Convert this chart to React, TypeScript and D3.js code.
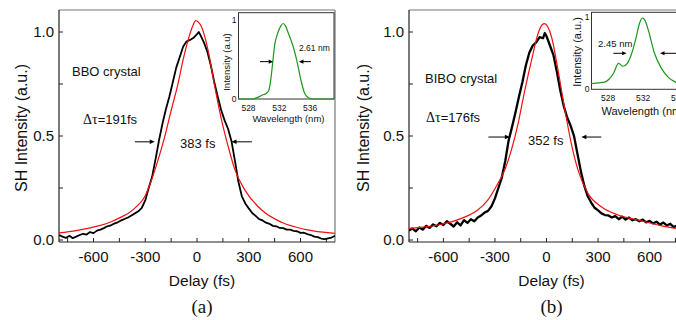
import * as d3 from 'd3'

const DELAY_MAJOR = [-600, -300, 0, 300, 600]
const DELAY_MINOR = [-750, -450, -150, 150, 450, 750]
const SH_MAJOR = [0, 0.5, 1.0]
const SH_MINOR = [0.25, 0.75]
const WL_TICKS = [528, 532, 536]
const INSET_Y_TICKS = [0, 1]

// autocorrelation traces, [delay fs, SH intensity]
const bboTrace: [number, number][] = [
  [-800, 0.024], [-780, 0.016], [-760, 0.01], [-740, 0.02], [-720, 0.009], [-700, 0.016], [-680, 0.024],
  [-660, 0.03], [-640, 0.026], [-620, 0.038], [-600, 0.033], [-580, 0.045], [-560, 0.05], [-540, 0.057],
  [-520, 0.066], [-500, 0.07], [-480, 0.079], [-460, 0.085], [-440, 0.094], [-420, 0.101], [-400, 0.108],
  [-380, 0.118], [-360, 0.128], [-340, 0.138], [-320, 0.155], [-300, 0.19], [-280, 0.25], [-260, 0.305],
  [-240, 0.39], [-220, 0.48], [-200, 0.56], [-180, 0.63], [-160, 0.69], [-140, 0.76], [-120, 0.83],
  [-100, 0.88], [-80, 0.93], [-60, 0.955], [-40, 0.962], [-20, 0.972], [0, 0.99], [10, 1.0], [20, 0.985],
  [40, 0.95], [60, 0.905], [80, 0.84], [100, 0.76], [120, 0.69], [140, 0.625], [160, 0.575], [180, 0.535],
  [200, 0.475], [220, 0.38], [240, 0.28], [260, 0.21], [280, 0.176], [300, 0.152], [320, 0.13], [340, 0.116],
  [360, 0.1], [380, 0.094], [400, 0.083], [420, 0.078], [440, 0.068], [460, 0.066], [480, 0.058], [500, 0.057],
  [520, 0.05], [540, 0.05], [560, 0.044], [580, 0.042], [600, 0.034], [620, 0.035], [640, 0.028], [660, 0.024],
  [680, 0.016], [700, 0.014], [720, 0.007], [740, 0.004], [760, 0.008], [780, 0.012], [800, 0.02],
]

const bboFit: [number, number][] = [
  [-800, 0.034], [-700, 0.045], [-633, 0.056], [-560, 0.07], [-497, 0.088], [-440, 0.11], [-400, 0.128],
  [-342, 0.168], [-303, 0.208], [-264, 0.288], [-226, 0.384], [-187, 0.497], [-149, 0.625], [-110, 0.752],
  [-81, 0.865], [-52, 0.96], [-23, 1.032], [-8, 1.055], [26, 1.025], [64, 0.913], [103, 0.737], [142, 0.577],
  [181, 0.449], [220, 0.337], [278, 0.24], [375, 0.144], [490, 0.085], [625, 0.051], [800, 0.032],
]

const biboTrace: [number, number][] = [
  [-800, 0.045], [-780, 0.055], [-760, 0.042], [-740, 0.06], [-720, 0.05], [-700, 0.068], [-680, 0.058],
  [-660, 0.075], [-640, 0.066], [-620, 0.082], [-600, 0.072], [-580, 0.09], [-560, 0.078], [-540, 0.065],
  [-520, 0.085], [-500, 0.07], [-480, 0.095], [-460, 0.082], [-440, 0.1], [-420, 0.09], [-400, 0.108],
  [-380, 0.118], [-360, 0.132], [-340, 0.14], [-320, 0.162], [-300, 0.2], [-280, 0.25], [-260, 0.3],
  [-240, 0.38], [-220, 0.48], [-200, 0.545], [-180, 0.615], [-160, 0.69], [-140, 0.76], [-120, 0.84],
  [-100, 0.9], [-80, 0.935], [-60, 0.95], [-40, 0.975], [-20, 0.97], [-10, 0.995], [0, 0.98], [20, 0.935],
  [40, 0.89], [60, 0.81], [80, 0.72], [100, 0.645], [120, 0.59], [140, 0.55], [160, 0.5], [180, 0.415],
  [200, 0.33], [220, 0.26], [240, 0.21], [260, 0.18], [280, 0.155], [300, 0.142], [320, 0.128], [340, 0.12],
  [360, 0.118], [380, 0.108], [400, 0.115], [420, 0.1], [440, 0.112], [460, 0.098], [480, 0.108], [500, 0.095],
  [520, 0.1], [540, 0.09], [560, 0.098], [580, 0.085], [600, 0.092], [620, 0.08], [640, 0.088], [660, 0.074],
  [680, 0.084], [700, 0.07], [720, 0.078], [740, 0.062], [760, 0.07], [780, 0.058], [800, 0.064],
]

const biboFit: [number, number][] = [
  [-800, 0.056], [-631, 0.072], [-495, 0.104], [-400, 0.144], [-342, 0.192], [-283, 0.272], [-243, 0.337],
  [-204, 0.433], [-165, 0.561], [-126, 0.721], [-87, 0.865], [-49, 0.993], [-25, 1.035], [-12, 1.04],
  [29, 0.977], [67, 0.817], [107, 0.625], [144, 0.465], [183, 0.337], [241, 0.224], [319, 0.16], [416, 0.12],
  [533, 0.096], [650, 0.072], [753, 0.056], [800, 0.052],
]

// SH spectra for the insets, [wavelength nm, intensity]
const bboSpectrum: [number, number][] = [
  [526.7, 0], [528.5, 0.0], [529.2, 0.02], [529.8, 0.05], [530.3, 0.07], [530.6, 0.1], [530.9, 0.25],
  [531.1, 0.42], [531.4, 0.68], [531.8, 0.83], [532.2, 0.92], [532.5, 0.95], [532.8, 0.92], [533.2, 0.82],
  [533.8, 0.66], [534.3, 0.47], [534.8, 0.24], [535.3, 0.07], [535.9, 0.01], [536.5, 0], [539.1, 0],
]

const biboSpectrum: [number, number][] = [
  [526.1, 0.08], [527.0, 0.09], [527.6, 0.1], [528.1, 0.14], [528.6, 0.22], [529.2, 0.36], [529.7, 0.32],
  [530.2, 0.36], [530.7, 0.5], [531.2, 0.72], [531.6, 0.92], [531.9, 0.99], [532.2, 0.96], [532.6, 0.82],
  [533.3, 0.5], [534.1, 0.29], [534.8, 0.175], [535.7, 0.1], [537, 0.05], [539, 0.03],
]

const SANS = 'Liberation Sans, Arial, sans-serif'
const SERIF = 'Liberation Serif, Times New Roman, serif'

type Arrow = { from: [number, number]; to: [number, number] }

type PanelCfg = {
  left: number
  right: number
  trace: [number, number][]
  fit: [number, number][]
  traceWidth: number
  crystal: string
  crystalPos: [number, number]
  dtau: string
  dtauPos: [number, number]
  fwhm: string
  fwhmPos: [number, number]
  arrows: Arrow[]
  yLabelX: number
  tag: string
  inset: {
    x0: number; x1: number; y0: number; y1: number; top: number
    domain: [number, number]
    data: [number, number][]
    yLabel: string
    yLabelX: number; yLabelY: number
    labelSize: number; tickSize: number
    tickY: number
    xLabelX: number; xLabelY: number; xLabelAnchor: string
    note: string; notePos: [number, number]; noteSize: number
    arrows: Arrow[]
  }
}

const TOP = 10
const BOTTOM = 242
const yScale = d3.scaleLinear().domain([0, 1]).range([240, 32])

const panels: PanelCfg[] = [
  {
    left: 59, right: 335, trace: bboTrace, fit: bboFit, traceWidth: 1.8,
    crystal: 'BBO crystal', crystalPos: [72, 76],
    dtau: '=191fs', dtauPos: [83, 124],
    fwhm: '383 fs', fwhmPos: [180, 148],
    arrows: [{ from: [-360, 0.472], to: [-245, 0.472] }, { from: [318, 0.472], to: [200, 0.472] }],
    yLabelX: 21, tag: '(a)',
    inset: {
      x0: 238.5, x1: 334, y0: 99, y1: 19.5, top: 12.7, domain: [526.7, 539.1], data: bboSpectrum,
      yLabel: 'Intensity (a.u)', yLabelX: 230, yLabelY: 62, labelSize: 9.5, tickSize: 8.5, tickY: 111,
      xLabelX: 288.5, xLabelY: 122, xLabelAnchor: 'middle',
      note: '2.61 nm', notePos: [299, 51], noteSize: 8.5,
      arrows: [{ from: [529.5, 0.47], to: [531.2, 0.47] }, { from: [536.1, 0.47], to: [534.55, 0.47] }],
    },
  },
  {
    left: 409, right: 684, trace: biboTrace, fit: biboFit, traceWidth: 2.3,
    crystal: 'BIBO crystal', crystalPos: [425, 83],
    dtau: '=176fs', dtauPos: [426, 122],
    fwhm: '352 fs', fwhmPos: [528, 145],
    arrows: [{ from: [-338, 0.495], to: [-213, 0.495] }, { from: [319, 0.495], to: [203, 0.495] }],
    yLabelX: 363, tag: '(b)',
    inset: {
      x0: 591.5, x1: 704, y0: 89.3, y1: 17.3, top: 12.3, domain: [526.1, 538.96], data: biboSpectrum,
      yLabel: 'Intensity (a.u.)', yLabelX: 580.5, yLabelY: 52, labelSize: 11, tickSize: 8.5, tickY: 100.5,
      xLabelX: 601.5, xLabelY: 114.5, xLabelAnchor: 'start',
      note: '2.45 nm', notePos: [598, 46.5], noteSize: 9.5,
      arrows: [{ from: [528.6, 0.5], to: [530.12, 0.5] }, { from: [536.6, 0.5], to: [533.93, 0.5] }],
    },
  },
]

function ArrowMark({ x1, y1, x2, y2, head = 5 }: { x1: number; y1: number; x2: number; y2: number; head?: number }) {
  const dir = Math.sign(x2 - x1)
  return (
    <g>
      <line x1={x1} y1={y1} x2={x2 - dir * head * 0.8} y2={y2} stroke="#000" strokeWidth={1} />
      <path d={`M${x2},${y2} L${x2 - dir * head},${y2 - head * 0.45} L${x2 - dir * head},${y2 + head * 0.45} Z`} fill="#000" />
    </g>
  )
}

function Panel({ cfg }: { cfg: PanelCfg }) {
  const x = d3.scaleLinear().domain([-800, 800]).range([cfg.left, cfg.right])
  const line = d3.line<[number, number]>().x(d => x(d[0])).y(d => yScale(d[1]))
  const smooth = d3.line<[number, number]>().x(d => x(d[0])).y(d => yScale(d[1])).curve(d3.curveMonotoneX)
  const ins = cfg.inset
  const ix = d3.scaleLinear().domain(ins.domain).range([ins.x0, ins.x1])
  const iy = d3.scaleLinear().domain([0, 1]).range([ins.y0, ins.y1])
  const spec = d3.line<[number, number]>().x(d => ix(d[0])).y(d => iy(d[1])).curve(d3.curveMonotoneX)
  const clipId = `clip-${cfg.tag.replace(/\W/g, '')}`
  const midX = x(0)

  return (
    <g>
      <defs>
        <clipPath id={clipId}>
          <rect x={cfg.left} y={TOP} width={cfg.right - cfg.left} height={BOTTOM - TOP} />
        </clipPath>
      </defs>
      {/* frame */}
      <line x1={cfg.left} x2={cfg.right} y1={TOP} y2={TOP} stroke="#777" strokeWidth={1.2} />
      <line x1={cfg.right} x2={cfg.right} y1={TOP} y2={BOTTOM} stroke="#777" strokeWidth={1.2} />
      <line x1={cfg.left} x2={cfg.left} y1={TOP} y2={BOTTOM} stroke="#222" strokeWidth={1.2} />
      <line x1={cfg.left} x2={cfg.right} y1={BOTTOM} y2={BOTTOM} stroke="#222" strokeWidth={1.2} />

      {/* ticks */}
      {[...DELAY_MAJOR, ...DELAY_MINOR].map(t => (
        <line key={`xt${t}`} x1={x(t)} x2={x(t)} y1={BOTTOM} y2={BOTTOM - 4} stroke="#222" strokeWidth={1} />
      ))}
      {[...SH_MAJOR, ...SH_MINOR].map(v => (
        <line key={`yt${v}`} x1={cfg.left} x2={cfg.left + 4} y1={yScale(v)} y2={yScale(v)} stroke="#222" strokeWidth={1} />
      ))}
      {DELAY_MAJOR.map(t => (
        <text key={`xl${t}`} x={x(t)} y={261.5} textAnchor="middle" fontFamily={SANS} fontSize={15} fill="#111">{t}</text>
      ))}
      {SH_MAJOR.map(v => (
        <text key={`yl${v}`} x={cfg.left - 5} y={yScale(v) + 5.3} textAnchor="end" fontFamily={SANS} fontSize={15} fill="#111">
          {d3.format('.1f')(v)}
        </text>
      ))}

      {/* curves */}
      <g clipPath={`url(#${clipId})`}>
        <path d={line(cfg.trace) ?? ''} fill="none" stroke="#000" strokeWidth={cfg.traceWidth} strokeLinejoin="round" />
        <path d={smooth(cfg.fit) ?? ''} fill="none" stroke="#f01010" strokeWidth={1.2} />
      </g>

      {/* annotations */}
      <text x={cfg.crystalPos[0]} y={cfg.crystalPos[1]} fontFamily={SANS} fontSize={13} fill="#111">{cfg.crystal}</text>
      <text x={cfg.dtauPos[0]} y={cfg.dtauPos[1]} fontFamily={SANS} fontSize={13} fill="#111">
        <tspan fontFamily={SERIF} fontSize={14}>Δτ</tspan>{cfg.dtau}
      </text>
      <text x={cfg.fwhmPos[0]} y={cfg.fwhmPos[1]} fontFamily={SANS} fontSize={13} fill="#111">{cfg.fwhm}</text>
      {cfg.arrows.map((a, i) => (
        <ArrowMark key={i} x1={x(a.from[0])} y1={yScale(a.from[1])} x2={x(a.to[0])} y2={yScale(a.to[1])} />
      ))}

      {/* axis titles */}
      <text transform={`translate(${cfg.yLabelX},128) rotate(-90)`} textAnchor="middle" dominantBaseline="central"
        fontFamily={SANS} fontSize={16} fill="#111">SH Intensity (a.u.)</text>
      <text x={midX + 5} y={286} textAnchor="middle" fontFamily={SANS} fontSize={15.5} fill="#111">Delay (fs)</text>
      <text x={midX + 5} y={313} textAnchor="middle" fontFamily={SERIF} fontSize={19} fill="#111">{cfg.tag}</text>

      {/* inset spectrum */}
      <rect x={ins.x0} y={ins.top} width={ins.x1 - ins.x0} height={ins.y0 - ins.top} fill="#fff" stroke="#333" strokeWidth={1} />
      <path d={spec(ins.data) ?? ''} fill="none" stroke="#1e961e" strokeWidth={1.2} />
      {INSET_Y_TICKS.map(v => (
        <text key={`iy${v}`} x={ins.x0 - 2} y={iy(v) + 3} textAnchor="end" fontFamily={SANS} fontSize={ins.tickSize} fill="#111">{v}</text>
      ))}
      {WL_TICKS.map(w => (
        <text key={`ix${w}`} x={ix(w)} y={ins.tickY} textAnchor="middle" fontFamily={SANS} fontSize={ins.tickSize} fill="#111">{w}</text>
      ))}
      <text transform={`translate(${ins.yLabelX},${ins.yLabelY}) rotate(-90)`} textAnchor="middle"
        fontFamily={SANS} fontSize={ins.labelSize} fill="#111">{ins.yLabel}</text>
      <text x={ins.xLabelX} y={ins.xLabelY} textAnchor={ins.xLabelAnchor as any} fontFamily={SANS} fontSize={ins.labelSize} fill="#111">
        Wavelength (nm)
      </text>
      <text x={ins.notePos[0]} y={ins.notePos[1]} fontFamily={SANS} fontSize={ins.noteSize} fill="#111">{ins.note}</text>
      {ins.arrows.map((a, i) => (
        <ArrowMark key={`ia${i}`} x1={ix(a.from[0])} y1={iy(a.from[1])} x2={ix(a.to[0])} y2={iy(a.to[1])} head={4.5} />
      ))}
    </g>
  )
}

export default function App() {
  return (
    <div style={{ position: 'absolute', left: 0, top: 0 }}>
      <svg width={676} height={320} style={{ display: 'block', background: '#fff' }}>
        {panels.map(p => <Panel key={p.tag} cfg={p} />)}
      </svg>
    </div>
  )
}
